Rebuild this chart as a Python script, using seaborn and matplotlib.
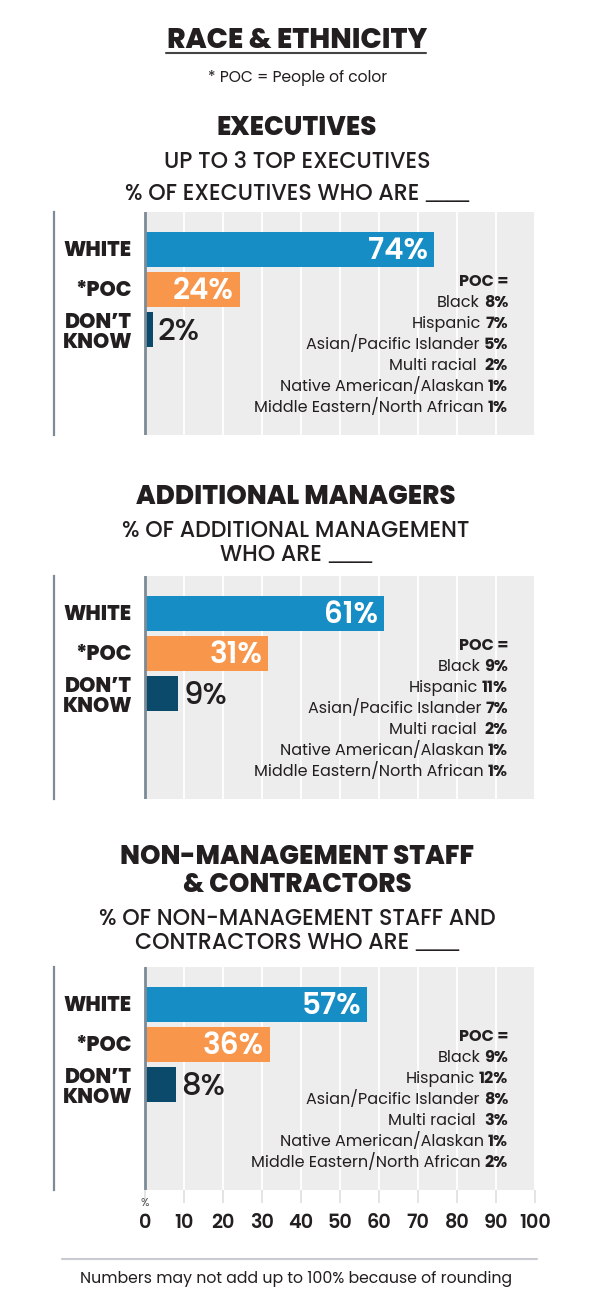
import numpy as np
import pandas as pd
import seaborn as sns
import matplotlib.pyplot as plt
from matplotlib.lines import Line2D
from matplotlib import font_manager as fm

# ---------------- data ----------------
categories = ["WHITE", "*POC", "DON\u2019T\nKNOW"]
exec_pct = [74, 24, 2]
mgr_pct = [61, 31, 9]
staff_pct = [57, 36, 8]
# bar lengths as drawn in the picture
exec_bar = [74, 24.3, 2]
mgr_bar = [61.4, 31.6, 8.5]
staff_bar = [57, 32, 8]

poc_labels = ["Black", "Hispanic", "Asian/Pacific Islander", "Multi racial ",
              "Native American/Alaskan", "Middle Eastern/North African"]
exec_poc = [8, 7, 5, 2, 1, 1]
mgr_poc = [9, 11, 7, 2, 1, 1]
staff_poc = [9, 12, 8, 3, 1, 2]

x_ticks = list(range(0, 101, 10))

# ---------------- style ----------------
sns.set_theme(style="white")
names = {f.name for f in fm.fontManager.ttflist}
FONT = "Poppins" if "Poppins" in names else "DejaVu Sans"
plt.rcParams['font.family'] = [FONT, 'DejaVu Sans']
HEAVY, BOLD, SEMI, MED, REG = 800, 700, 600, 500, 400
CAP = 0.35  # half cap height in em

TXT = "#231f20"
BLUE = "#168ec5"
ORANGE = "#f8964c"
NAVY = "#0b4a6b"
BG = "#ededed"
AXC = "#7d8a98"
W, H = 604, 1296

fig = plt.figure(figsize=(W / 100, H / 100), dpi=100)
fig.patch.set_facecolor("white")
renderer = fig.canvas.get_renderer()


def extent(s, size, weight=REG, family=None, linespacing=1.0):
    t = fig.text(0, 0, s, fontsize=size, weight=weight, linespacing=linespacing,
                 family=family if family else [FONT, "DejaVu Sans"])
    e = t.get_window_extent(renderer)
    t.remove()
    return e


def px_width(s, size, weight=REG, family=None):
    return extent(s, size, weight, family).width


def fit(s, target, weight=REG):
    return 20 * target / px_width(s, 20, weight)


def ftext(x, y, s, size, weight=REG, color=TXT, ha="center", family=None):
    yb = y + CAP * size * 100 / 72
    fig.text(x / W, 1 - yb / H, s, fontsize=size, weight=weight, color=color,
             ha=ha, va="baseline", family=family if family else [FONT, "DejaVu Sans"])


def blank_line(xc, y, s, size, weight):
    """Heading line ending with a continuous blank ____."""
    main = s.replace("____", "").rstrip()
    u_size = 16
    wm = px_width(main, size, weight)
    wu = px_width("____", u_size, REG, ["DejaVu Sans"])
    gap = 6
    x0 = xc - (wm + gap + wu) / 2
    ftext(x0, y, main, size, weight, ha="left")
    yb = y + CAP * size * 100 / 72
    fig.text((x0 + wm + gap) / W, 1 - (yb - 3) / H, "____", fontsize=u_size,
             color=TXT, ha="left", va="baseline", family=["DejaVu Sans"])


# ---------------- headings ----------------
title_size = fit("RACE & ETHNICITY", 259, HEAVY)
ftext(297, 38, "RACE & ETHNICITY", title_size, HEAVY)
fig.add_artist(Line2D([166 / W, 426 / W], [1 - 53 / H] * 2, color="#444444", lw=1.5))
note_size = fit("* POC = People of color", 180)
ftext(298, 77, "* POC = People of color", note_size)

head_size = fit("ADDITIONAL MANAGERS", 318, HEAVY)
sub_size = fit("% OF ADDITIONAL MANAGEMENT", 348, MED)

ftext(297, 126, "EXECUTIVES", head_size, HEAVY)
ftext(297, 160, "UP TO 3 TOP EXECUTIVES", sub_size, MED)
blank_line(297, 192, "% OF EXECUTIVES WHO ARE ____", sub_size, MED)

ftext(296, 495, "ADDITIONAL MANAGERS", head_size, HEAVY)
ftext(296, 529, "% OF ADDITIONAL MANAGEMENT", sub_size, MED)
blank_line(296, 553, "WHO ARE ____", sub_size, MED)

ftext(297, 855, "NON-MANAGEMENT STAFF", head_size, HEAVY)
ftext(297, 883, "& CONTRACTORS", head_size, HEAVY)
ftext(297, 917, "% OF NON-MANAGEMENT STAFF AND", sub_size, MED)
blank_line(297, 941, "CONTRACTORS WHO ARE ____", sub_size, MED)

# ---------------- panels ----------------
PXU = (535 - 145) / 100.0          # pixels per percent
XMIN = -(145 - 54) / PXU
cat_size = fit("WHITE", 68, HEAVY)
in_size = fit("74%", 60, SEMI)
out_size = fit("2%", 42, MED)
brk_size = fit("Middle Eastern/North African", 230)
tick_size = fit("100", 32, SEMI)
colors = [BLUE, ORANGE, NAVY]

# line spacing so that two category lines sit 18 px apart
_h1 = extent("DON\u2019T", cat_size, HEAVY).height
_h2 = extent("DON\u2019T\nKNOW", cat_size, HEAVY).height
CAT_LS = 18.0 / max(_h2 - _h1, 1)


def atext(ax, x, y, s, size, dx_px=0, dy_px=0, **kw):
    ax.annotate(s, xy=(x, y), xytext=(dx_px * 0.72, -CAP * size - dy_px * 0.72),
                textcoords="offset points", va="baseline", fontsize=size,
                color=kw.pop("color", TXT), zorder=4, **kw)


def panel(top_px, pct, bars, poc, show_x):
    hpx = 223
    ax = fig.add_axes([54 / W, 1 - (top_px + hpx) / H, (535 - 54) / W, hpx / H])
    ax.set_facecolor("white")
    df = pd.DataFrame({"cat": categories, "bar": bars})
    ax.axvspan(0, 100, color=BG, lw=0, zorder=0.8)
    sns.barplot(data=df, x="bar", y="cat", hue="cat", palette=colors,
                width=0.875, legend=False, ax=ax, zorder=2, linewidth=0,
                saturation=1, errorbar=None)
    ax.set_xlim(XMIN, 100)
    ax.set_ylim(4.65, -0.925)
    ax.set_xticks(x_ticks)
    ax.set_yticks([])
    ax.set_xlabel("")
    ax.set_ylabel("")
    ax.grid(axis="x", color="white", lw=1.3)
    ax.grid(axis="y", visible=False)
    ax.set_axisbelow("line")
    ax.axvline(0, color=AXC, lw=2, zorder=3)
    for s in ["top", "right", "bottom"]:
        ax.spines[s].set_visible(False)
    ax.spines["left"].set_color(AXC)
    ax.spines["left"].set_linewidth(1.6)

    for i, (c, p, b) in enumerate(zip(categories, pct, bars)):
        if "\n" in c:
            ax.annotate(c, xy=(-13 / PXU, i), xytext=(0, -4 * 0.72),
                        textcoords="offset points", ha="right", va="center",
                        multialignment="right", linespacing=CAT_LS,
                        fontsize=cat_size, weight=HEAVY, color=TXT, zorder=4)
        else:
            atext(ax, -13 / PXU, i, c, cat_size, ha="right", weight=HEAVY)
        if b > 15:
            atext(ax, b, i, f"{p}%", in_size, dx_px=-6, ha="right", weight=SEMI,
                  color="white")
        else:
            atext(ax, b, i, f"{p}%", out_size, dx_px=5, ha="left", weight=MED)

    xr = (508 - 145) / PXU
    y0 = 0.78
    step = 0.525
    atext(ax, xr, y0, "POC =", brk_size, ha="right", weight=BOLD)
    for k, (lab, v) in enumerate(zip(poc_labels, poc)):
        yy = y0 + step * (k + 1)
        vs = f"{v}%"
        atext(ax, xr, yy, vs, brk_size, ha="right", weight=BOLD)
        wv = px_width(vs, brk_size, BOLD) + 4
        atext(ax, xr, yy, lab, brk_size, dx_px=-wv, ha="right", weight=REG)

    if show_x:
        ax.tick_params(axis="x", bottom=True, length=9.5, width=1.1, color="#dcdcdc",
                       labelsize=tick_size, labelcolor=TXT, pad=7.5)
        for t in ax.get_xticklabels():
            t.set_fontweight(SEMI)
    else:
        ax.tick_params(axis="x", bottom=False, labelbottom=False)
    return ax


panel(212, exec_pct, exec_bar, exec_poc, False)
panel(576, mgr_pct, mgr_bar, mgr_poc, False)
panel(967, staff_pct, staff_bar, staff_poc, True)

ftext(145, 1202, "%", 8, color="#555555")

# ---------------- footer ----------------
fig.add_artist(Line2D([62 / W, 537 / W], [1 - 1259 / H] * 2, color="#c8ccd0", lw=1.5))
foot_size = fit("Numbers may not add up to 100% because of rounding", 433)
ftext(296, 1277, "Numbers may not add up to 100% because of rounding", foot_size)

fig.savefig("out.png", dpi=100, facecolor="white")
